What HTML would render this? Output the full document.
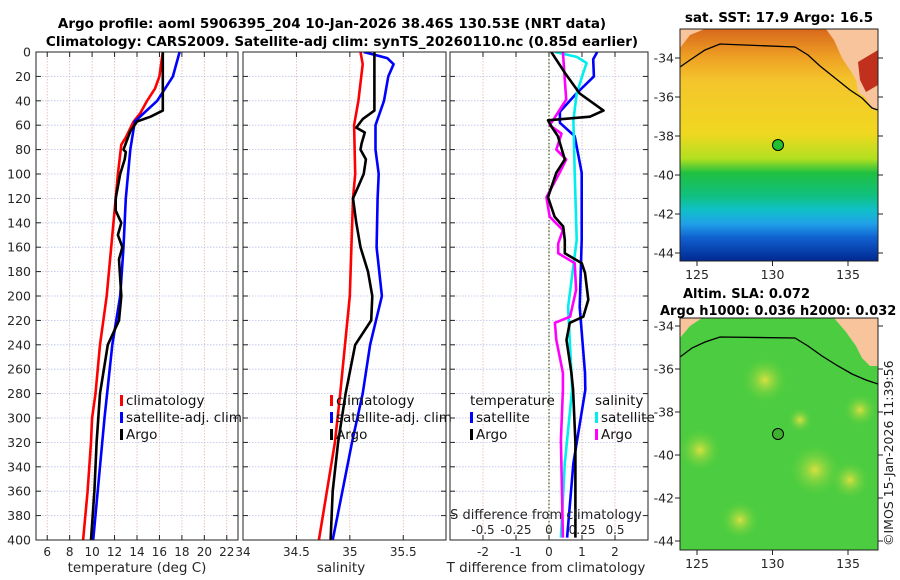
<!DOCTYPE html>
<html><head><meta charset="utf-8"><style>
body{margin:0;background:#fff;}
svg{display:block;font-family:"DejaVu Sans","Liberation Sans",sans-serif;}
</style></head><body>
<svg id="chart" width="900" height="580" viewBox="0 0 900 580" xmlns="http://www.w3.org/2000/svg">
<defs>
<linearGradient id="sstGrad" x1="0" y1="0" x2="0" y2="1">
<stop offset="0" stop-color="#d8681c"/><stop offset="0.12" stop-color="#eea024"/><stop offset="0.22" stop-color="#f4c42c"/>
<stop offset="0.45" stop-color="#f0d820"/><stop offset="0.56" stop-color="#b0e020"/><stop offset="0.62" stop-color="#20c040"/>
<stop offset="0.72" stop-color="#10c080"/><stop offset="0.78" stop-color="#10c0c8"/><stop offset="0.84" stop-color="#20a0e8"/>
<stop offset="0.9" stop-color="#1060d0"/><stop offset="1" stop-color="#002890"/>
</linearGradient>
<radialGradient id="blob"><stop offset="0" stop-color="#d8e040"/><stop offset="1" stop-color="#50d040" stop-opacity="0"/></radialGradient>
<clipPath id="m1c"><rect x="680" y="29" width="198" height="232"/></clipPath>
<clipPath id="m2c"><rect x="680" y="318" width="198" height="232"/></clipPath>
</defs>
<text x="332" y="28" text-anchor="middle" font-size="13.5" font-weight="bold">Argo profile: aoml 5906395_204 10-Jan-2026 38.46S 130.53E (NRT data)</text>
<text x="342" y="46" text-anchor="middle" font-size="13.5" font-weight="bold">Climatology: CARS2009. Satellite-adj clim: synTS_20260110.nc (0.85d earlier)</text>
<g id="panels"></g>
<g clip-path="url(#m1c)">
<rect x="680" y="29" width="198" height="232" fill="url(#sstGrad)"/>
<polygon fill="#f8c49c" points="826,29 878,29 878,108 872,110 866,98 858,92 856,80 850,70 842,58 834,40"/>
<polygon fill="#c0301c" points="858,62 878,50 878,85 866,92 860,80"/>
<polygon fill="#f8c49c" points="680,29 705,29 690,35 680,48"/>
<polyline fill="none" stroke="#000" stroke-width="1.3" points="680,67 690,60 705,50 720,44 795,47 808,55 820,66 835,78 850,90 862,98 872,108 878,110"/>
<circle cx="778" cy="145" r="5.5" fill="#20c030" stroke="#000" stroke-width="1"/>
</g>
<rect x="680" y="29" width="198" height="232" fill="none" stroke="#222" stroke-width="1"/>
<text x="779" y="22" text-anchor="middle" font-size="13.5" font-weight="bold">sat. SST: 17.9 Argo: 16.5</text>
<g clip-path="url(#m2c)">
<rect x="680" y="318" width="198" height="232" fill="#4ccc40"/>
<circle cx="765" cy="380" r="24" fill="url(#blob)"/><circle cx="815" cy="470" r="27" fill="url(#blob)"/>
<circle cx="700" cy="450" r="22" fill="url(#blob)"/><circle cx="850" cy="480" r="20" fill="url(#blob)"/>
<circle cx="740" cy="520" r="20" fill="url(#blob)"/><circle cx="860" cy="410" r="17" fill="url(#blob)"/>
<circle cx="800" cy="420" r="13" fill="url(#blob)"/>
<polygon fill="#f8c49c" points="834,318 878,318 878,366 870,366 862,358 856,346 846,332"/>
<polygon fill="#f8c49c" points="680,318 702,318 690,326 680,338"/>
<polyline fill="none" stroke="#000" stroke-width="1.3" points="680,357 692,348 705,342 720,337 795,338 808,346 822,356 838,366 852,374 866,380 878,384"/>
<circle cx="778" cy="434" r="5.5" fill="#40b030" stroke="#000" stroke-width="1"/>
</g>
<rect x="680" y="318" width="198" height="232" fill="none" stroke="#222" stroke-width="1"/>
<text x="683" y="298" font-size="13" font-weight="bold">Altim. SLA: 0.072</text>
<text x="660" y="315" font-size="13" font-weight="bold">Argo h1000: 0.036 h2000: 0.032</text>
<text transform="translate(893,546) rotate(-90)" font-size="12.5" fill="#222">©IMOS 15-Jan-2026 11:39:56</text>
<g id="maps"></g>
</svg>
<script>
const tDepth   = [0,20,30,40,50,57,70,76,100,120,160,200,240,280,300,320,360,400];
const tClim    = [16.3,16.0,15.6,14.9,14.3,13.7,13.0,12.6,12.3,12.1,11.7,11.3,10.7,10.3,10.0,9.9,9.6,9.2];
const satDepth = [0,20,40,57,80,120,160,200,240,300,360,400];
const tSat     = [17.8,17.2,15.8,13.8,13.4,13.0,12.8,12.5,11.8,11.1,10.5,10.1];
const argoDepth= [0,48,53,57,65,80,82,88,100,120,130,140,150,160,170,200,220,240,280,320,360,400];
const tArgo    = [16.3,16.3,15.2,14.0,13.4,12.8,13.0,12.9,12.5,12.1,12.1,12.6,12.3,12.7,12.4,12.6,12.4,11.4,10.7,10.4,10.2,9.9];
const sClimDepth=[0,10,40,60,100,120,200,280,320,400];
const sClim    = [35.10,35.12,35.08,35.04,35.05,35.03,35.00,34.91,34.86,34.71];
const sArgoDepth=[0,48,55,62,66,75,80,88,100,110,120,140,160,180,200,220,240,280,320,360,400];
const sArgo    = [35.23,35.23,35.12,35.06,35.14,35.11,35.10,35.15,35.13,35.08,35.03,35.06,35.10,35.17,35.21,35.20,35.05,34.96,34.89,34.84,34.82];
const sSatDepth= [0,5,10,20,40,60,80,100,120,160,200,240,280,320,360,400];
const sSat     = [35.13,35.35,35.41,35.36,35.32,35.24,35.24,35.27,35.26,35.25,35.30,35.19,35.12,35.02,34.93,34.84];
const dtSatDepth=[0,6,20,34,49,58,69,99,154,209,263,277,337,398];
const dtSat    = [1.46,1.34,1.36,0.83,0.33,0.33,0.78,0.99,0.99,0.93,1.09,1.1,0.74,0.55];
const dtArgoDepth=[0,17,34,48,53,56,61,69,88,99,119,135,143,154,165,173,181,203,217,222,236,263,277,320,337,398];
const dtArgo   = [0.07,0.48,0.93,1.65,1.24,-0.03,0.07,0.27,0.48,0.22,-0.03,0.17,0.43,0.48,0.48,0.99,1.09,1.19,1.04,0.63,0.53,0.68,0.73,0.8,0.8,0.8];
const dsSatDepth=[0,4,9,17,34,56,99,154,209,263,277,337,398];
const dsSat    = [0.045,0.21,0.285,0.26,0.21,0.185,0.195,0.21,0.145,0.17,0.175,0.12,0.09];
const dsArgoDepth=[0,39,56,60,67,80,88,99,119,135,146,157,165,173,195,217,222,236,263,277,318,398];
const dsArgo   = [0.105,0.13,0.03,0.005,0.095,0.055,0.13,0.08,-0.02,0.005,0.105,0.07,0.07,0.195,0.205,0.16,0.045,0.055,0.105,0.105,0.09,0.105];
const depthTicks=[0,20,40,60,80,100,120,140,160,180,200,220,240,260,280,300,320,340,360,380,400];
const tTicks=[6,8,10,12,14,16,18,20,22];
const sTicks=[34,34.5,35,35.5];
const sTickLabels=["34","34.5","35","35.5"];
const dTTicks=[-2,-1,0,1,2];
const dSTicks=[-0.5,-0.25,0,0.25,0.5];
const dSTickLabels=["-0.5","-0.25","0","0.25","0.5"];
const latTicks=[-34,-36,-38,-40,-42,-44];
const lonTicks=[125,130,135];

const NS="http://www.w3.org/2000/svg";
const root=document.getElementById('panels');
function el(tag,attrs,parent,txt){const e=document.createElementNS(NS,tag);for(const k in attrs)e.setAttribute(k,attrs[k]);if(txt!==undefined)e.textContent=txt;(parent||root).appendChild(e);return e;}
const Y0=52,Y1=540;
const yScale=d=>Y0+(d/400)*(Y1-Y0);
const FS=12;

function panel(name,x0,x1,dmin,dmax){
  const g=el('g',{});
  
  
  const sx=v=>x0+(v-dmin)/(dmax-dmin)*(x1-x0);
  const cid='clip-'+name;
  const cp=el('clipPath',{id:cid},g);el('rect',{x:x0,y:Y0,width:x1-x0,height:Y1-Y0},cp);
  return {g,sx,x0,x1,cid};
}
function grid(p,xs,showY){
  depthTicks.forEach(d=>{
    const y=yScale(d);
    if(d>0&&d<400){const l=el('line',{x1:p.x0,x2:p.x1,y1:y,y2:y,stroke:'#b8c0e8','stroke-width':0.8,'stroke-dasharray':'1.5,1.5'},p.g);
      }
    el('line',{x1:p.x0,x2:p.x0+5,y1:y,y2:y,stroke:'#222'},p.g);
    el('line',{x1:p.x1-5,x2:p.x1,y1:y,y2:y,stroke:'#222'},p.g);
    if(showY){const t=el('text',{x:p.x0-5,y:y+4.5,'text-anchor':'end','font-size':FS+0.5,fill:'#262626'},p.g,String(d));
      }
  });
  xs.forEach(v=>{const x=p.sx(v);
    const l=el('line',{x1:x,x2:x,y1:Y0,y2:Y1,stroke:'#e0b8a8','stroke-width':0.8,'stroke-dasharray':'1.5,1.5'},p.g);
    
    el('line',{x1:x,x2:x,y1:Y1,y2:Y1-5,stroke:'#222'},p.g);
    el('line',{x1:x,x2:x,y1:Y0,y2:Y0+5,stroke:'#222'},p.g);
  });
}
function xlabels(p,vals,labels,y){vals.forEach((v,i)=>{const t=el('text',{x:p.sx(v),y:y,'text-anchor':'middle','font-size':FS,fill:'#262626'},p.g,labels?labels[i]:String(v));
  });}
function line(p,depths,vals,color,name,sx){
  const f=sx||p.sx;
  const pts=depths.map((d,i)=>f(vals[i]).toFixed(1)+','+yScale(d).toFixed(1)).join(' ');
  const l=el('polyline',{points:pts,fill:'none',stroke:color,'stroke-width':2.6,'stroke-linejoin':'round','clip-path':'url(#'+p.cid+')'},p.g);
  
  
}
function frame(p){el('rect',{x:p.x0,y:Y0,width:p.x1-p.x0,height:Y1-Y0,fill:'none',stroke:'#222','stroke-width':1},p.g);}
function legend(p,x,y,items){items.forEach((it,i)=>{
  if(it.c) el('rect',{x:x,y:y+i*17-10,width:3,height:11,fill:it.c},p.g);
  const t=el('text',{x:x+(it.c?6:0),y:y+i*17,'font-size':13.5,fill:'#111'},p.g,it.t);
  });}

const p1=panel('temperature-panel',36,238,5,23);
grid(p1,tTicks,true);
line(p1,tDepth,tClim,'#ff0000','temp-climatology-line');
line(p1,satDepth,tSat,'#0000ff','temp-satellite-line');
line(p1,argoDepth,tArgo,'#000000','temp-argo-line');
frame(p1);xlabels(p1,tTicks,null,556);
el('text',{x:137,y:572,'text-anchor':'middle','font-size':13.5,fill:'#262626'},p1.g,'temperature (deg C)');
legend(p1,120,405,[{c:'#ff0000',t:'climatology'},{c:'#0000ff',t:'satellite-adj. clim'},{c:'#000',t:'Argo'}]);

const p2=panel('salinity-panel',243,446,34,35.9);
grid(p2,[34.5,35,35.5],false);
line(p2,sClimDepth,sClim,'#ff0000','sal-climatology-line');
line(p2,sSatDepth,sSat,'#0000ff','sal-satellite-line');
line(p2,sArgoDepth,sArgo,'#000000','sal-argo-line');
frame(p2);xlabels(p2,sTicks,sTickLabels,556);
el('text',{x:341,y:572,'text-anchor':'middle','font-size':13.5,fill:'#262626'},p2.g,'salinity');
legend(p2,330,405,[{c:'#ff0000',t:'climatology'},{c:'#0000ff',t:'satellite-adj. clim'},{c:'#000',t:'Argo'}]);

const p3=panel('difference-panel',450,648,-3,3);
grid(p3,dTTicks,false);
const sxS=v=>p3.x0+(v+0.75)/1.5*(p3.x1-p3.x0);
el('line',{x1:p3.sx(0),x2:p3.sx(0),y1:Y0,y2:Y1,stroke:'#3a5a2a','stroke-width':1.2,'stroke-dasharray':'1.5,2'},p3.g);
line(p3,dtSatDepth,dtSat,'#0000ff','tdiff-satellite-line');
line(p3,dsSatDepth,dsSat,'#00eeee','sdiff-satellite-line',sxS);
line(p3,dsArgoDepth,dsArgo,'#ff00ff','sdiff-argo-line',sxS);
line(p3,dtArgoDepth,dtArgo,'#000000','tdiff-argo-line');
frame(p3);xlabels(p3,dTTicks,null,556);
dSTicks.forEach((v,i)=>{const t=el('text',{x:sxS(v),y:534,'text-anchor':'middle','font-size':FS,fill:'#262626'},p3.g,dSTickLabels[i]);
  });
el('text',{x:546,y:519,'text-anchor':'middle','font-size':13,fill:'#262626'},p3.g,'S difference from climatology');
el('text',{x:546,y:572,'text-anchor':'middle','font-size':13.5,fill:'#262626'},p3.g,'T difference from climatology');
legend(p3,470,405,[{t:'temperature'},{c:'#0000ff',t:'satellite'},{c:'#000',t:'Argo'}]);
legend(p3,595,405,[{t:' salinity'},{c:'#00eeee',t:'satellite'},{c:'#ff00ff',t:'Argo'}]);

const mg=document.getElementById('maps');
function mapAxes(top,lat0y,pxPerDeg,name){
  latTicks.forEach(v=>{const y=lat0y+(-34-v)*pxPerDeg;
    el('line',{x1:878,x2:883,y1:y,y2:y,stroke:'#222'},mg);el('line',{x1:675,x2:680,y1:y,y2:y,stroke:'#222'},mg);
    const t=el('text',{x:674,y:y+4.5,'text-anchor':'end','font-size':FS+0.5,fill:'#262626'},mg,String(v));
    });
  lonTicks.forEach(v=>{const x=697+(v-125)*15.1;
    el('line',{x1:x,x2:x,y1:top+232,y2:top+237,stroke:'#222'},mg);
    const t=el('text',{x:x,y:top+250,'text-anchor':'middle','font-size':FS+0.5,fill:'#262626'},mg,String(v));
    });
}
mapAxes(29,58,19.5,'sst');
mapAxes(318,326,21.5,'sla');
</script>
</body></html>
